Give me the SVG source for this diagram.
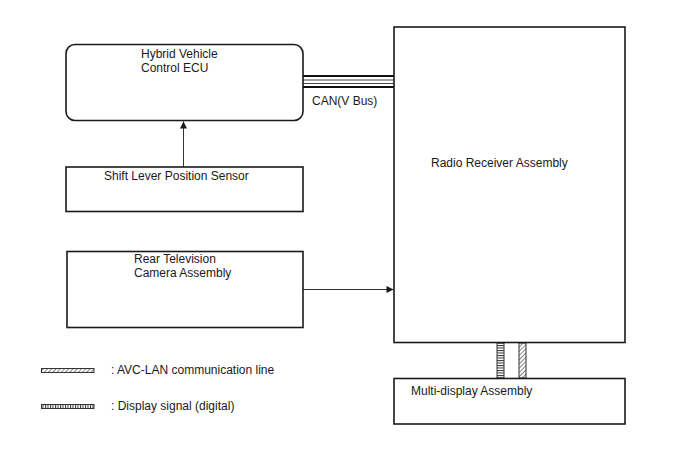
<svg xmlns="http://www.w3.org/2000/svg" width="688" height="463" viewBox="0 0 688 463">
<style>
.box{fill:#fff;stroke:#1a1a1a;stroke-width:1.6}
.t{font-family:"Liberation Sans",Arial,sans-serif;font-size:12px;fill:#1a1a1a}
.ln{stroke:#333;stroke-width:1;fill:none}
</style>
<defs>
<marker id="ah" viewBox="0 0 10 10" refX="10" refY="5" markerWidth="10" markerHeight="7" markerUnits="userSpaceOnUse" orient="auto">
<path d="M0,0 L10,5 L0,10 z" fill="#1a1a1a"/>
</marker>
<pattern id="diag" width="3" height="3" patternUnits="userSpaceOnUse" patternTransform="rotate(45)">
<rect width="3" height="3" fill="#fff"/>
<line x1="0" y1="0" x2="0" y2="3" stroke="#333" stroke-width="1.2"/>
</pattern>
<pattern id="vert" width="2.5" height="4" patternUnits="userSpaceOnUse">
<rect width="2.5" height="4" fill="#fff"/>
<line x1="0.5" y1="0" x2="0.5" y2="4" stroke="#333" stroke-width="1"/>
</pattern>
<pattern id="horz" width="7" height="2.5" patternUnits="userSpaceOnUse">
<rect width="7" height="2.5" fill="#fff"/>
<line x1="0" y1="0.5" x2="7" y2="0.5" stroke="#333" stroke-width="1"/>
</pattern>
</defs>

<g id="connectors">
<line x1="303" y1="76" x2="394" y2="76" stroke="#111" stroke-width="2"/>
<line x1="303" y1="80" x2="394" y2="80" stroke="#444" stroke-width="1"/>
<line x1="303" y1="83.5" x2="394" y2="83.5" stroke="#444" stroke-width="1"/>
<line x1="303" y1="87" x2="394" y2="87" stroke="#111" stroke-width="2"/>
<text class="t" x="312" y="105">CAN(V Bus)</text>
<line class="ln" x1="183.5" y1="167" x2="183.5" y2="121.5" marker-end="url(#ah)"/>
<line class="ln" x1="303" y1="289.5" x2="393.5" y2="289.5" marker-end="url(#ah)"/>
<rect x="497" y="343" width="7" height="35" fill="url(#horz)" stroke="#333" stroke-width="1"/>
<rect x="519" y="343" width="7" height="35" fill="url(#diag)" stroke="#333" stroke-width="1"/>
</g>

<g id="ecu">
<rect class="box" x="66" y="44.5" width="237" height="76" rx="9"/>
<text class="t" x="141" y="58">Hybrid Vehicle</text>
<text class="t" x="141" y="72">Control ECU</text>
</g>

<g id="shift">
<rect class="box" x="66" y="167" width="237" height="44.5"/>
<text class="t" x="104" y="180">Shift Lever Position Sensor</text>
</g>

<g id="camera">
<rect class="box" x="67" y="251.5" width="236" height="76"/>
<text class="t" x="134" y="263">Rear Television</text>
<text class="t" x="134" y="277">Camera Assembly</text>
</g>

<g id="radio">
<rect class="box" x="394" y="27" width="231" height="315.5"/>
<text class="t" x="431" y="167">Radio Receiver Assembly</text>
</g>

<g id="display">
<rect class="box" x="394" y="378.5" width="231" height="45.5"/>
<text class="t" x="411" y="395">Multi-display Assembly</text>
</g>

<g id="legend">
<rect x="41.5" y="368.5" width="52.5" height="4" fill="url(#diag)" stroke="#333" stroke-width="1"/>
<text class="t" x="111" y="373.5">: AVC-LAN communication line</text>
<rect x="41.5" y="404.5" width="52.5" height="4" fill="url(#vert)" stroke="#333" stroke-width="1"/>
<text class="t" x="111" y="409.5">: Display signal (digital)</text>
</g>
</svg>
